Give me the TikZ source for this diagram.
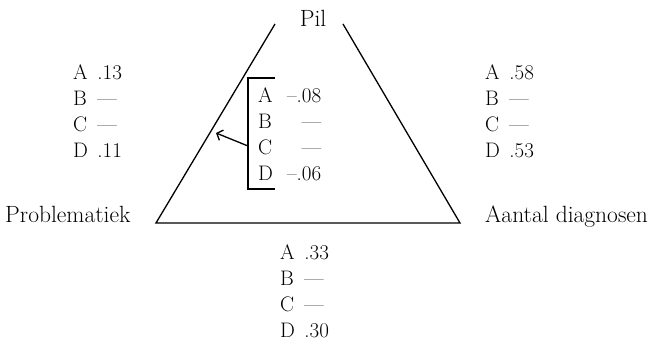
\documentclass[tikz,border=0pt]{standalone}
\usetikzlibrary{arrows.meta}
\begin{document}
\begin{tikzpicture}[x=1pt,y=-1pt,
  lbl/.style={inner sep=0pt,font=\fontsize{23.5}{26}\selectfont},
  lst/.style={inner sep=0pt,font=\fontsize{21}{26}\selectfont},
  edge/.style={line width=1.3pt},
  ]
\useasboundingbox (0,0) rectangle (660,344);
% triangle corners
\coordinate (tl) at (275,24);
\coordinate (tr) at (343,24);
\coordinate (bl) at (156,223);
\coordinate (br) at (460,223);
\draw[edge] (tl) -- (bl) -- (br) -- (tr);
\node[lbl,anchor=base] (pil) at (313,27) {Pil};
\node[lbl,anchor=base west] (prob) at (5,223) {Problematiek};
\node[lbl,anchor=base west] (aant) at (485,223) {Aantal diagnosen};
% lists
\node[lst,anchor=base west] (left) at (73,80)
  {\begin{tabular}[t]{@{}l@{\hspace{0.45em}}l@{}}A&.13\\B&---\\C&---\\D&.11\end{tabular}};
\node[lst,anchor=base west] (right) at (485,80)
  {\begin{tabular}[t]{@{}l@{\hspace{0.45em}}l@{}}A&.58\\B&---\\C&---\\D&.53\end{tabular}};
\node[lst,anchor=base west] (bottom) at (280,259)
  {\begin{tabular}[t]{@{}l@{\hspace{0.45em}}l@{}}A&.33\\B&---\\C&---\\D&.30\end{tabular}};
\node[lst,anchor=base west] (inner) at (258,103)
  {\begin{tabular}[t]{@{}l@{\hspace{14pt}}r@{}}A&--.08\\B&---\\C&---\\D&--.06\end{tabular}};
% bracket
\coordinate (bt) at (248,78);
\coordinate (bb) at (248,189);
\coordinate (btr) at (275,78);
\coordinate (bbr) at (275,189);
\coordinate (bm) at (248,146);
\coordinate (tip) at (216,133);
\draw[edge] (btr) -- (bt) -- (bb) -- (bbr);
\draw[edge,-{Straight Barb[length=5pt,width=11pt]}] (bm) -- (tip);
\end{tikzpicture}
\end{document}
